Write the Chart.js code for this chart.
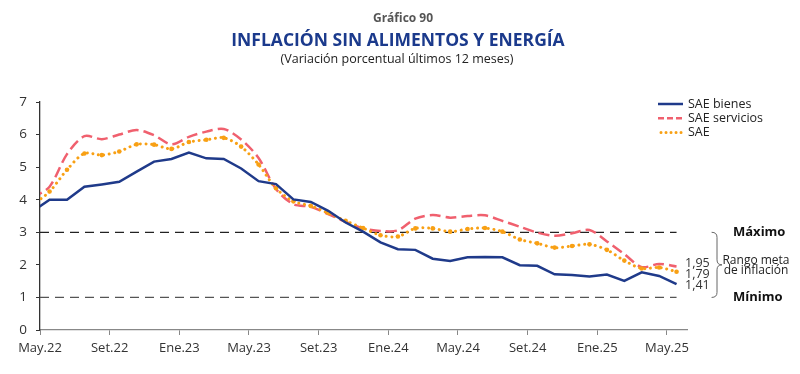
<!DOCTYPE html>
<html lang="es">
<head>
<meta charset="utf-8">
<title>Gráfico 90</title>
<script src="https://cdn.jsdelivr.net/npm/chart.js@4.4.1/dist/chart.umd.min.js"></script>
<style>
  html, body { margin: 0; padding: 0; background: #fff; }
  #wrap { position: relative; width: 800px; height: 374px; }
</style>
</head>
<body>
<div id="wrap"><canvas id="chart" width="800" height="374"></canvas></div>
<script>
// Datos mensuales: índice 0 = Abr.22 (queda fuera del eje, se recorta), índice 1 = May.22
const months = [
  'Abr.22', 'May.22', 'Jun.22', 'Jul.22', 'Ago.22', 'Set.22', 'Oct.22', 'Nov.22', 'Dic.22',
  'Ene.23', 'Feb.23', 'Mar.23', 'Abr.23', 'May.23', 'Jun.23', 'Jul.23', 'Ago.23', 'Set.23', 'Oct.23', 'Nov.23', 'Dic.23',
  'Ene.24', 'Feb.24', 'Mar.24', 'Abr.24', 'May.24', 'Jun.24', 'Jul.24', 'Ago.24', 'Set.24', 'Oct.24', 'Nov.24', 'Dic.24',
  'Ene.25', 'Feb.25', 'Mar.25', 'Abr.25', 'May.25'
];

const saeBienes = [
  3.64, 4.00, 4.00, 4.40, 4.47, 4.55, 4.86, 5.17, 5.25,
  5.45, 5.27, 5.25, 4.96, 4.57, 4.48, 4.01, 3.93, 3.66, 3.30, 3.02, 2.69,
  2.48, 2.46, 2.19, 2.12, 2.23, 2.24, 2.23, 1.99, 1.97, 1.71, 1.69, 1.64,
  1.70, 1.51, 1.77, 1.66, 1.41
];

const saeServicios = [
  4.05, 4.40, 5.40, 5.95, 5.86, 6.00, 6.14, 5.98, 5.70,
  5.93, 6.09, 6.17, 5.85, 5.28, 4.33, 3.86, 3.78, 3.56, 3.32, 3.12, 3.04,
  3.06, 3.42, 3.53, 3.45, 3.50, 3.52, 3.35, 3.17, 2.99, 2.89, 2.97, 3.07,
  2.72, 2.33, 1.93, 2.03, 1.95
];

const sae = [
  3.83, 4.25, 4.92, 5.42, 5.37, 5.48, 5.70, 5.69, 5.56,
  5.77, 5.84, 5.90, 5.63, 5.08, 4.35, 3.95, 3.81, 3.59, 3.35, 3.13, 2.91,
  2.87, 3.12, 3.12, 3.02, 3.10, 3.13, 3.02, 2.78, 2.66, 2.53, 2.58, 2.63,
  2.46, 2.13, 1.89, 1.92, 1.79
];

// rango meta de inflación
const rangoMeta = [1, 3];

// etiquetas del eje X (cada 4 meses desde May.22)
const xTickLabels = ['May.22', 'Set.22', 'Ene.23', 'May.23', 'Set.23', 'Ene.24', 'May.24', 'Set.24', 'Ene.25', 'May.25'];
const yTicks = [0, 1, 2, 3, 4, 5, 6, 7];

const FONT = '"Open Sans", "DejaVu Sans", sans-serif';
const TICK_SHIFT = -0.55;   // las marcas del eje caen un poco antes del dato del mes
const X_MIN = -0.55;
const X_MAX = 36.6;

const toPoints = vals => vals.map((v, i) => ({ x: i - 1, y: v }));
const lastMonth = months.length - 2;

const series = [
  { label: 'SAE bienes', data: saeBienes, color: '#1f3a8a', dash: [], width: 2.5, tension: 0, order: 1 },
  { label: 'SAE servicios', data: saeServicios, color: '#f0606e', dash: [11, 5], width: 2.5, tension: 0.3, order: 3 },
  { label: 'SAE', data: sae, color: '#f8a014', dash: [0.01, 5.5], width: 3, tension: 0.3, order: 2, dots: true }
];

const datasets = series.map(s => ({
  label: s.label,
  data: toPoints(s.data),
  borderColor: s.color,
  backgroundColor: s.color,
  borderWidth: s.width,
  borderDash: s.dash,
  borderCapStyle: s.dots ? 'round' : 'butt',
  tension: s.tension,
  pointRadius: s.dots ? 2.3 : 0,
  pointBorderWidth: 0,
  pointBackgroundColor: s.color,
  order: s.order,
  clip: { left: 0, top: 10, right: 10, bottom: 10 }
}));

// líneas del rango meta
rangoMeta.forEach((v, k) => {
  datasets.push({
    label: k === 0 ? 'Mínimo' : 'Máximo',
    data: [{ x: X_MIN, y: v }, { x: lastMonth, y: v }],
    borderColor: k === 0 ? '#555' : '#222',
    borderWidth: 1.3,
    borderDash: [9, 6],
    pointRadius: 0,
    order: 10
  });
});

// textos: títulos, leyenda, valores finales y rango meta
const annotations = {
  id: 'annotations',
  afterDraw(chart) {
    const ctx = chart.ctx;
    const y = chart.scales.y;
    ctx.save();
    ctx.textBaseline = 'middle';

    // títulos
    ctx.textAlign = 'center';
    ctx.fillStyle = '#555';
    ctx.font = 'bold 12px ' + FONT;
    ctx.fillText('Gráfico 90', 403, 19);
    ctx.fillStyle = '#1b3a8c';
    ctx.font = 'bold 17.5px ' + FONT;
    ctx.fillText('INFLACIÓN SIN ALIMENTOS Y ENERGÍA', 398, 41);
    ctx.fillStyle = '#222';
    ctx.font = '12.5px ' + FONT;
    ctx.fillText('(Variación porcentual últimos 12 meses)', 397, 59);

    // leyenda
    ctx.textAlign = 'left';
    ctx.font = '12.5px ' + FONT;
    series.forEach((s, k) => {
      const ly = 104 + k * 14.3;
      ctx.strokeStyle = s.color;
      ctx.lineWidth = s.width;
      ctx.setLineDash(s.dots ? [0.01, 5] : (s.dash.length ? [6, 3] : []));
      ctx.lineCap = s.dots ? 'round' : 'butt';
      ctx.beginPath();
      ctx.moveTo(s.dots ? 661 : 658, ly);
      ctx.lineTo(683, ly);
      ctx.stroke();
      ctx.setLineDash([]);
      ctx.fillStyle = '#222';
      ctx.fillText(s.label, 688, ly);
    });

    // valores del último mes, separados para que no se encimen
    const labels = series.map(s => {
      const v = s.data[s.data.length - 1];
      return { v, text: v.toFixed(2).replace('.', ','), py: y.getPixelForValue(v) };
    }).sort((a, b) => b.v - a.v);
    const gap = 11;
    for (let k = 1; k < labels.length; k++) {
      if (labels[k].py - labels[k - 1].py < gap) {
        if (k === 1) {
          const mid = (labels[0].py + labels[1].py) / 2;
          labels[0].py = mid - gap / 2;
          labels[1].py = mid + gap / 2;
        } else {
          labels[k].py = labels[k - 1].py + gap;
        }
      }
    }
    ctx.fillStyle = '#333';
    ctx.font = '12.5px ' + FONT;
    labels.forEach(l => ctx.fillText(l.text, 685, l.py));

    // llave y rango meta
    const yTop = y.getPixelForValue(rangoMeta[1]);
    const yBot = y.getPixelForValue(rangoMeta[0]);
    const yMid = (yTop + yBot) / 2;
    ctx.strokeStyle = '#666';
    ctx.lineWidth = 1;
    ctx.beginPath();
    ctx.moveTo(712, yTop);
    ctx.quadraticCurveTo(717, yTop, 717, yTop + 5);
    ctx.lineTo(717, yMid - 5);
    ctx.quadraticCurveTo(717, yMid, 722, yMid);
    ctx.quadraticCurveTo(717, yMid, 717, yMid + 5);
    ctx.lineTo(717, yBot - 5);
    ctx.quadraticCurveTo(717, yBot, 712, yBot);
    ctx.stroke();

    ctx.fillStyle = '#111';
    ctx.font = 'bold 13px ' + FONT;
    ctx.fillText('Máximo', 733, yTop);
    ctx.fillText('Mínimo', 733, yBot);
    ctx.textAlign = 'center';
    ctx.fillStyle = '#222';
    ctx.font = '12px ' + FONT;
    ctx.fillText('Rango meta', 756, yMid - 4.5);
    ctx.fillText('de inflación', 756, yMid + 6);
    ctx.restore();
  }
};

new Chart(document.getElementById('chart'), {
  type: 'line',
  data: { datasets },
  options: {
    responsive: false,
    animation: false,
    layout: { padding: { top: 102, right: 113, left: 0, bottom: 0 } },
    plugins: {
      legend: { display: false },
      title: { display: false },
      tooltip: { enabled: false }
    },
    scales: {
      x: {
        type: 'linear',
        min: X_MIN,
        max: X_MAX,
        afterBuildTicks: axis => {
          axis.ticks = xTickLabels.map((_, k) => ({ value: 4 * k + TICK_SHIFT }));
        },
        afterFit: axis => { axis.height = 44; },
        grid: { drawOnChartArea: false, drawTicks: true, tickLength: 5, color: '#888' },
        border: { color: '#888', width: 1.3 },
        ticks: {
          autoSkip: false,
          maxRotation: 0,
          padding: 5,
          color: '#333',
          font: { family: FONT, size: 13 },
          callback: (value, index) => xTickLabels[index]
        }
      },
      y: {
        min: 0,
        max: 7,
        afterBuildTicks: axis => {
          axis.ticks = yTicks.map(v => ({ value: v }));
        },
        afterFit: axis => { axis.width = 40; },
        grid: { drawOnChartArea: false, drawTicks: true, tickLength: 4, color: '#333' },
        border: { color: '#333', width: 1.3 },
        ticks: {
          padding: 9,
          color: '#333',
          font: { family: FONT, size: 13.5 }
        }
      }
    }
  },
  plugins: [annotations]
});
</script>
</body>
</html>
